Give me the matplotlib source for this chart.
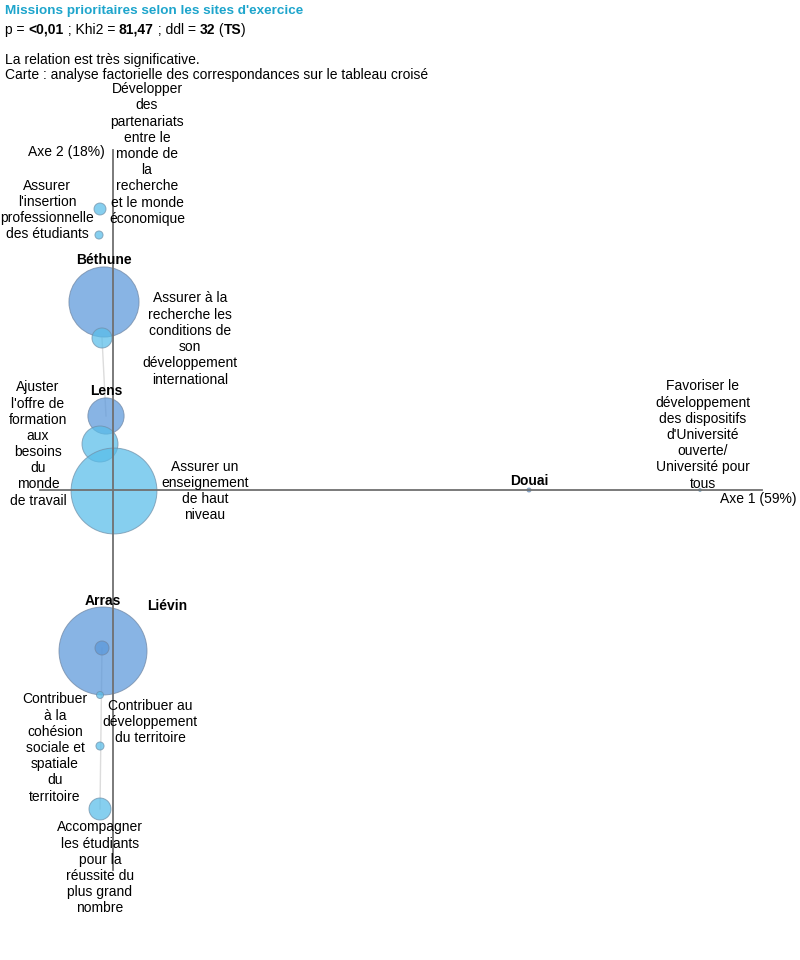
import matplotlib.pyplot as plt
import numpy as np

plt.rcParams['font.family'] = ['Liberation Sans', 'DejaVu Sans']

# Missions (modalites en colonnes)
missions = [
    "Développer\ndes\npartenariats\nentre le\nmonde de\nla\nrecherche\net le monde\néconomique",
    "Assurer\nl'insertion\nprofessionnelle\ndes étudiants",
    "Assurer à la\nrecherche les\nconditions de\nson\ndéveloppement\ninternational",
    "Ajuster\nl'offre de\nformation\naux\nbesoins\ndu\nmonde\nde travail",
    "Assurer un\nenseignement\nde haut\nniveau",
    "Favoriser le\ndéveloppement\ndes dispositifs\nd'Université\nouverte/\nUniversité pour\ntous",
    "Contribuer au\ndéveloppement\ndu territoire",
    "Contribuer\nà la\ncohésion\nsociale et\nspatiale\ndu\nterritoire",
    "Accompagner\nles étudiants\npour la\nréussite du\nplus grand\nnombre",
]
mis_x = [-0.13, -0.14, -0.11, -0.13, 0.01, 5.87, -0.13, -0.13, -0.13]
mis_y = [2.81, 2.55, 1.52, 0.46, -0.01, 0.00, -2.05, -2.56, -3.19]
mis_n = [3.5, 1.6, 9.8, 31.6, 180.0, 0.2, 1.2, 1.6, 11.8]

# Sites (modalites en lignes)
sites = ["Béthune", "Lens", "Douai", "Arras", "Liévin"]
site_x = [-0.09, -0.07, 4.16, -0.10, -0.11]
site_y = [1.88, 0.74, 0.00, -1.61, -1.58]
site_n = [120.0, 32.0, 0.4, 189.0, 4.8]

links = [(1, 2), (4, 8)]  # (site, mission)

# label offsets in pixels (dx, dy), dy positive = down
mis_off = [(47, -55), (-52, -25), (88, 1), (-62, 0), (91, 0), (3, -55),
           (50, 27), (-45, 2), (0, 59)]
site_off = [(0, -42), (0, -25), (0, -9), (0, -50), (65, -42)]

fig = plt.figure(figsize=(8, 9.6), dpi=100)
ax = fig.add_axes([0, 0, 1, 1])
ax.set_xlim(-1.13, 6.87)
ax.set_ylim(-4.70, 4.90)
ax.axis('off')

def size(n):
    r = np.sqrt(n) * 3.2  # px
    return (2 * r * 0.72) ** 2

px = 0.72  # points per pixel

# faint links
for s, m in links:
    ax.plot([site_x[s], mis_x[m]], [site_y[s], mis_y[m]], color='#dcdcdc', lw=1, zorder=1)

# axes
ax.plot([-0.73, 6.49], [0, 0], color='#707070', lw=1.3, zorder=4)
ax.plot([0, 0], [3.40, -3.80], color='#707070', lw=1.3, zorder=4)
ax.text(-0.08, 3.38, "Axe 2 (18%)", ha='right', va='center', fontsize=10)
ax.text(6.84, -0.09, "Axe 1 (59%)", ha='right', va='center', fontsize=10)

ax.scatter(site_x, site_y, s=[size(n) for n in site_n], color='#5a97da', alpha=0.72,
           edgecolor='#6f86a3', linewidth=0.7, zorder=2)
ax.scatter(mis_x, mis_y, s=[size(n) for n in mis_n], color='#58bde9', alpha=0.72,
           edgecolor='#6f8fa8', linewidth=0.7, zorder=3)

for i, lab in enumerate(missions):
    dx, dy = mis_off[i]
    ax.annotate(lab, (mis_x[i], mis_y[i]), xytext=(dx * px, -dy * px),
                textcoords='offset points', ha='center', va='center',
                multialignment='center', fontsize=10, linespacing=1.2, zorder=6)

for i, lab in enumerate(sites):
    dx, dy = site_off[i]
    ax.annotate(lab, (site_x[i], site_y[i]), xytext=(dx * px, -dy * px),
                textcoords='offset points', ha='center', va='center',
                fontsize=10, fontweight='bold', zorder=6)

# header
fig.text(5 / 800, 1 - 11 / 960, "Missions prioritaires selon les sites d'exercice",
         color='#1ea5cc', fontsize=9.7, fontweight='bold', va='center')

parts = [("p = ", 'normal'), ("<0,01", 'bold'), (" ; Khi2 = ", 'normal'), ("81,47", 'bold'),
         (" ; ddl = ", 'normal'), ("32", 'bold'), (" (", 'normal'), ("TS", 'bold'), (")", 'normal')]
prev = fig.text(5 / 800, 1 - 30 / 960, parts[0][0], fontsize=10, va='center',
                fontweight=parts[0][1])
for txt, w in parts[1:]:
    prev = ax.annotate(txt, xy=(1, 0), xycoords=prev, ha='left', va='bottom',
                       fontsize=10, fontweight=w)

fig.text(5 / 800, 1 - 60 / 960, "La relation est très significative.", fontsize=10, va='center')
fig.text(5 / 800, 1 - 75 / 960, "Carte : analyse factorielle des correspondances sur le tableau croisé",
         fontsize=10, va='center')

plt.savefig('out.png', dpi=100)
